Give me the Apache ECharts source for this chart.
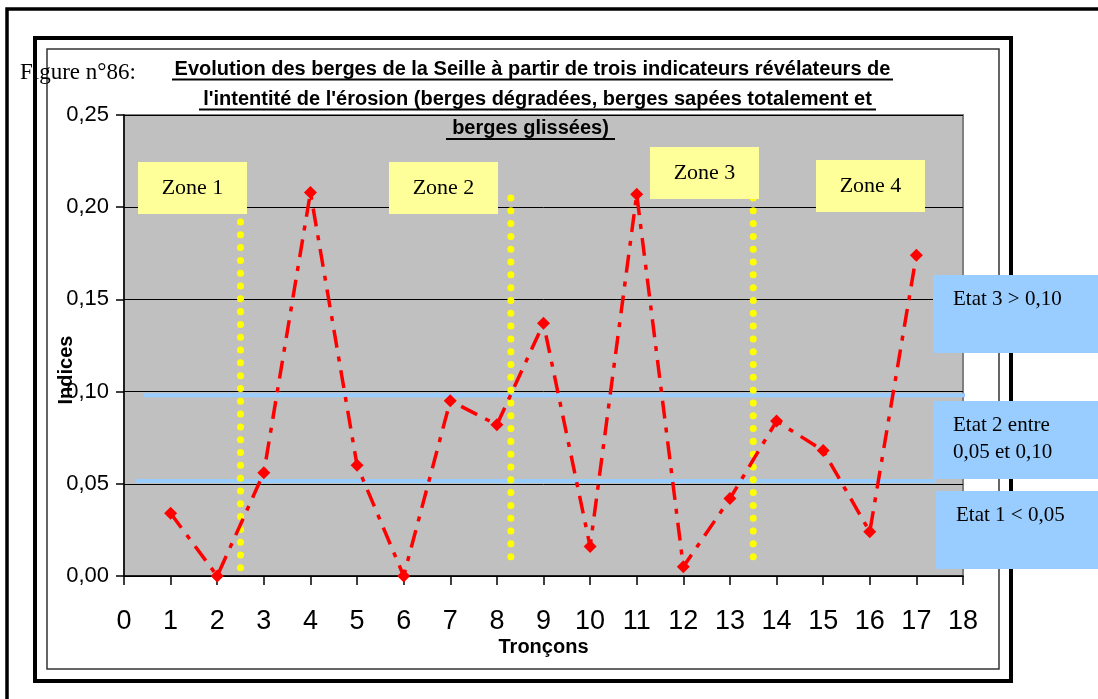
<!DOCTYPE html>
<html>
<head>
<meta charset="utf-8">
<script src="https://cdn.jsdelivr.net/npm/echarts@6/dist/echarts.min.js"></script>
<style>html,body{margin:0;padding:0;background:#fff}#c{width:1098px;height:699px}</style>
</head>
<body>
<div id="c"></div>
<script>
// ---- data ----
const troncons = [1, 2, 3, 4, 5, 6, 7, 8, 9, 10, 11, 12, 13, 14, 15, 16, 17];
const indices = [0.034, 0.000, 0.056, 0.208, 0.060, 0.000, 0.095, 0.082, 0.137, 0.016, 0.207, 0.005, 0.042, 0.084, 0.068, 0.024, 0.174];
const yTickLabels = ['0,00', '0,05', '0,10', '0,15', '0,20', '0,25'];
const xTickLabels = ['0','1','2','3','4','5','6','7','8','9','10','11','12','13','14','15','16','17','18'];
// zone dividers (x position, top value, bottom value)
const zoneDividerX = [2.5, 8.3, 13.5];
const zoneDividerTop = [0.192, 0.205, 0.205];
const zoneDividerBottom = 0.004;
// state thresholds (level, start x, end x)
const etatLevels = [0.098, 0.0515];
const etatStart = [0.41, 0.24];
const etatEnd = [18.13, 17.4];
const zoneLabels = ['Zone 1', 'Zone 2', 'Zone 3', 'Zone 4'];
const etatLabels = ['Etat 3 > 0,10', 'Etat 2 entre\n0,05 et 0,10', 'Etat 1 < 0,05'];
const titleLines = ["Evolution des berges de la Seille à partir de trois indicateurs révélateurs de",
  "l'intentité de l'érosion (berges dégradées, berges sapées totalement et",
  "berges glissées)"];
const figureLabel = 'Figure n°86:';
const yAxisTitle = 'Indices';
const xAxisTitle = 'Tronçons';

const chart = echarts.init(document.getElementById('c'), null, {renderer: 'canvas'});

const series = [];
etatLevels.forEach((lv, i) => {
  series.push({
    type: 'line', silent: true, clip: false, symbol: 'none', z: 3,
    data: [[etatStart[i], lv], [etatEnd[i], lv]],
    lineStyle: {color: '#99CCFF', width: 4}
  });
});
zoneDividerX.forEach((x, i) => {
  series.push({
    type: 'line', silent: true, clip: false, symbol: 'none', z: 4,
    data: [[x, zoneDividerTop[i]], [x, zoneDividerBottom]],
    lineStyle: {color: '#FFFF00', width: 7, type: [0.01, 12.8], cap: 'round'}
  });
});
series.push({
  type: 'line', z: 5, clip: false,
  data: troncons.map((t, i) => [t, indices[i]]),
  symbol: 'diamond', symbolSize: 13,
  itemStyle: {color: '#FF0000'},
  lineStyle: {color: '#FF0000', width: 3.5, type: [18, 9, 5, 9]}
});

const serif = '"Liberation Serif", "Times New Roman", serif';
const sans = '"Liberation Sans", Arial, sans-serif';

const zoneBoxes = [[138, 162], [389, 162], [650, 147], [816, 160]];
const etatBoxes = [[933, 275], [933, 401], [936, 491]];

const graphic = [
  // frames
  {type: 'polyline', z: 0, shape: {points: [[7, 699], [7, 9], [1098, 9]]}, style: {stroke: '#000', lineWidth: 3.5, fill: null}},
  {type: 'rect', z: 0, shape: {x: 35, y: 38, width: 976, height: 643}, style: {stroke: '#000', lineWidth: 4, fill: null}},
  {type: 'rect', z: 0, shape: {x: 47, y: 49, width: 952, height: 620}, style: {stroke: '#333', lineWidth: 1.5, fill: null}},
  // figure label
  {type: 'text', z: 20, style: {text: figureLabel, x: 20, y: 73, font: '23px ' + serif, fill: '#000', align: 'left', verticalAlign: 'middle'}},
  // title
  {type: 'text', z: 20, style: {text: titleLines[0], x: 532.5, y: 69, font: 'bold 20px ' + sans, fill: '#000', align: 'center', verticalAlign: 'middle'}},
  {type: 'text', z: 20, style: {text: titleLines[1], x: 537.5, y: 99, font: 'bold 20px ' + sans, fill: '#000', align: 'center', verticalAlign: 'middle'}},
  {type: 'text', z: 20, style: {text: titleLines[2], x: 530.5, y: 128, font: 'bold 20px ' + sans, fill: '#000', align: 'center', verticalAlign: 'middle'}},
  {type: 'line', z: 20, shape: {x1: 172, y1: 79.5, x2: 893, y2: 79.5}, style: {stroke: '#000', lineWidth: 2}},
  {type: 'line', z: 20, shape: {x1: 199, y1: 109.5, x2: 876, y2: 109.5}, style: {stroke: '#000', lineWidth: 2}},
  {type: 'line', z: 20, shape: {x1: 446, y1: 139, x2: 615, y2: 139}, style: {stroke: '#000', lineWidth: 2}},
  // y axis title
  {type: 'text', z: 20, x: 66, y: 370, rotation: Math.PI / 2,
    style: {text: yAxisTitle, x: 0, y: 0, font: 'bold 20px ' + sans, fill: '#000', align: 'center', verticalAlign: 'middle'}}
];
zoneBoxes.forEach((b, i) => {
  graphic.push({type: 'rect', z: 30, shape: {x: b[0], y: b[1], width: 109, height: 52}, style: {fill: '#FFFF99'}});
  graphic.push({type: 'text', z: 31, style: {text: zoneLabels[i], x: b[0] + 54.5, y: b[1] + 26, font: '22px ' + serif, fill: '#000', align: 'center', verticalAlign: 'middle'}});
});
etatBoxes.forEach((b, i) => {
  graphic.push({type: 'rect', z: 30, shape: {x: b[0], y: b[1], width: 1098 - b[0], height: 78}, style: {fill: '#99CCFF'}});
  graphic.push({type: 'text', z: 31, style: {text: etatLabels[i], x: b[0] + 20, y: b[1] + 11, font: '21px ' + serif, lineHeight: 27, fill: '#000', align: 'left', verticalAlign: 'top'}});
});

chart.setOption({
  animation: false,
  backgroundColor: '#fff',
  grid: {left: 124, right: 135, top: 115, bottom: 123, show: true, backgroundColor: '#C0C0C0', borderColor: '#808080', borderWidth: 2},
  xAxis: {
    type: 'value', min: 0, max: 18, interval: 1,
    name: xAxisTitle, nameLocation: 'middle', nameGap: 61, nameMoveOverlap: false,
    nameTextStyle: {fontFamily: sans, fontWeight: 'bold', fontSize: 20, color: '#000'},
    axisLine: {show: true, onZero: false, lineStyle: {color: '#000', width: 1.5}},
    axisTick: {show: true, length: 9, lineStyle: {color: '#000', width: 1.5}},
    axisLabel: {fontFamily: sans, fontSize: 27, color: '#000', margin: 32,
      formatter: (v) => xTickLabels[Math.round(v)]},
    splitLine: {show: false}
  },
  yAxis: {
    type: 'value', min: 0, max: 0.25, interval: 0.05,
    axisLine: {show: true, lineStyle: {color: '#000', width: 1.5}},
    axisTick: {show: true, length: 8, lineStyle: {color: '#000', width: 1.5}},
    axisLabel: {fontFamily: sans, fontSize: 22, color: '#000', margin: 15,
      formatter: (v) => yTickLabels[Math.round(v / 0.05)]},
    splitLine: {show: true, lineStyle: {color: '#000', width: 1}}
  },
  series: series,
  graphic: graphic
});
</script>
</body>
</html>
